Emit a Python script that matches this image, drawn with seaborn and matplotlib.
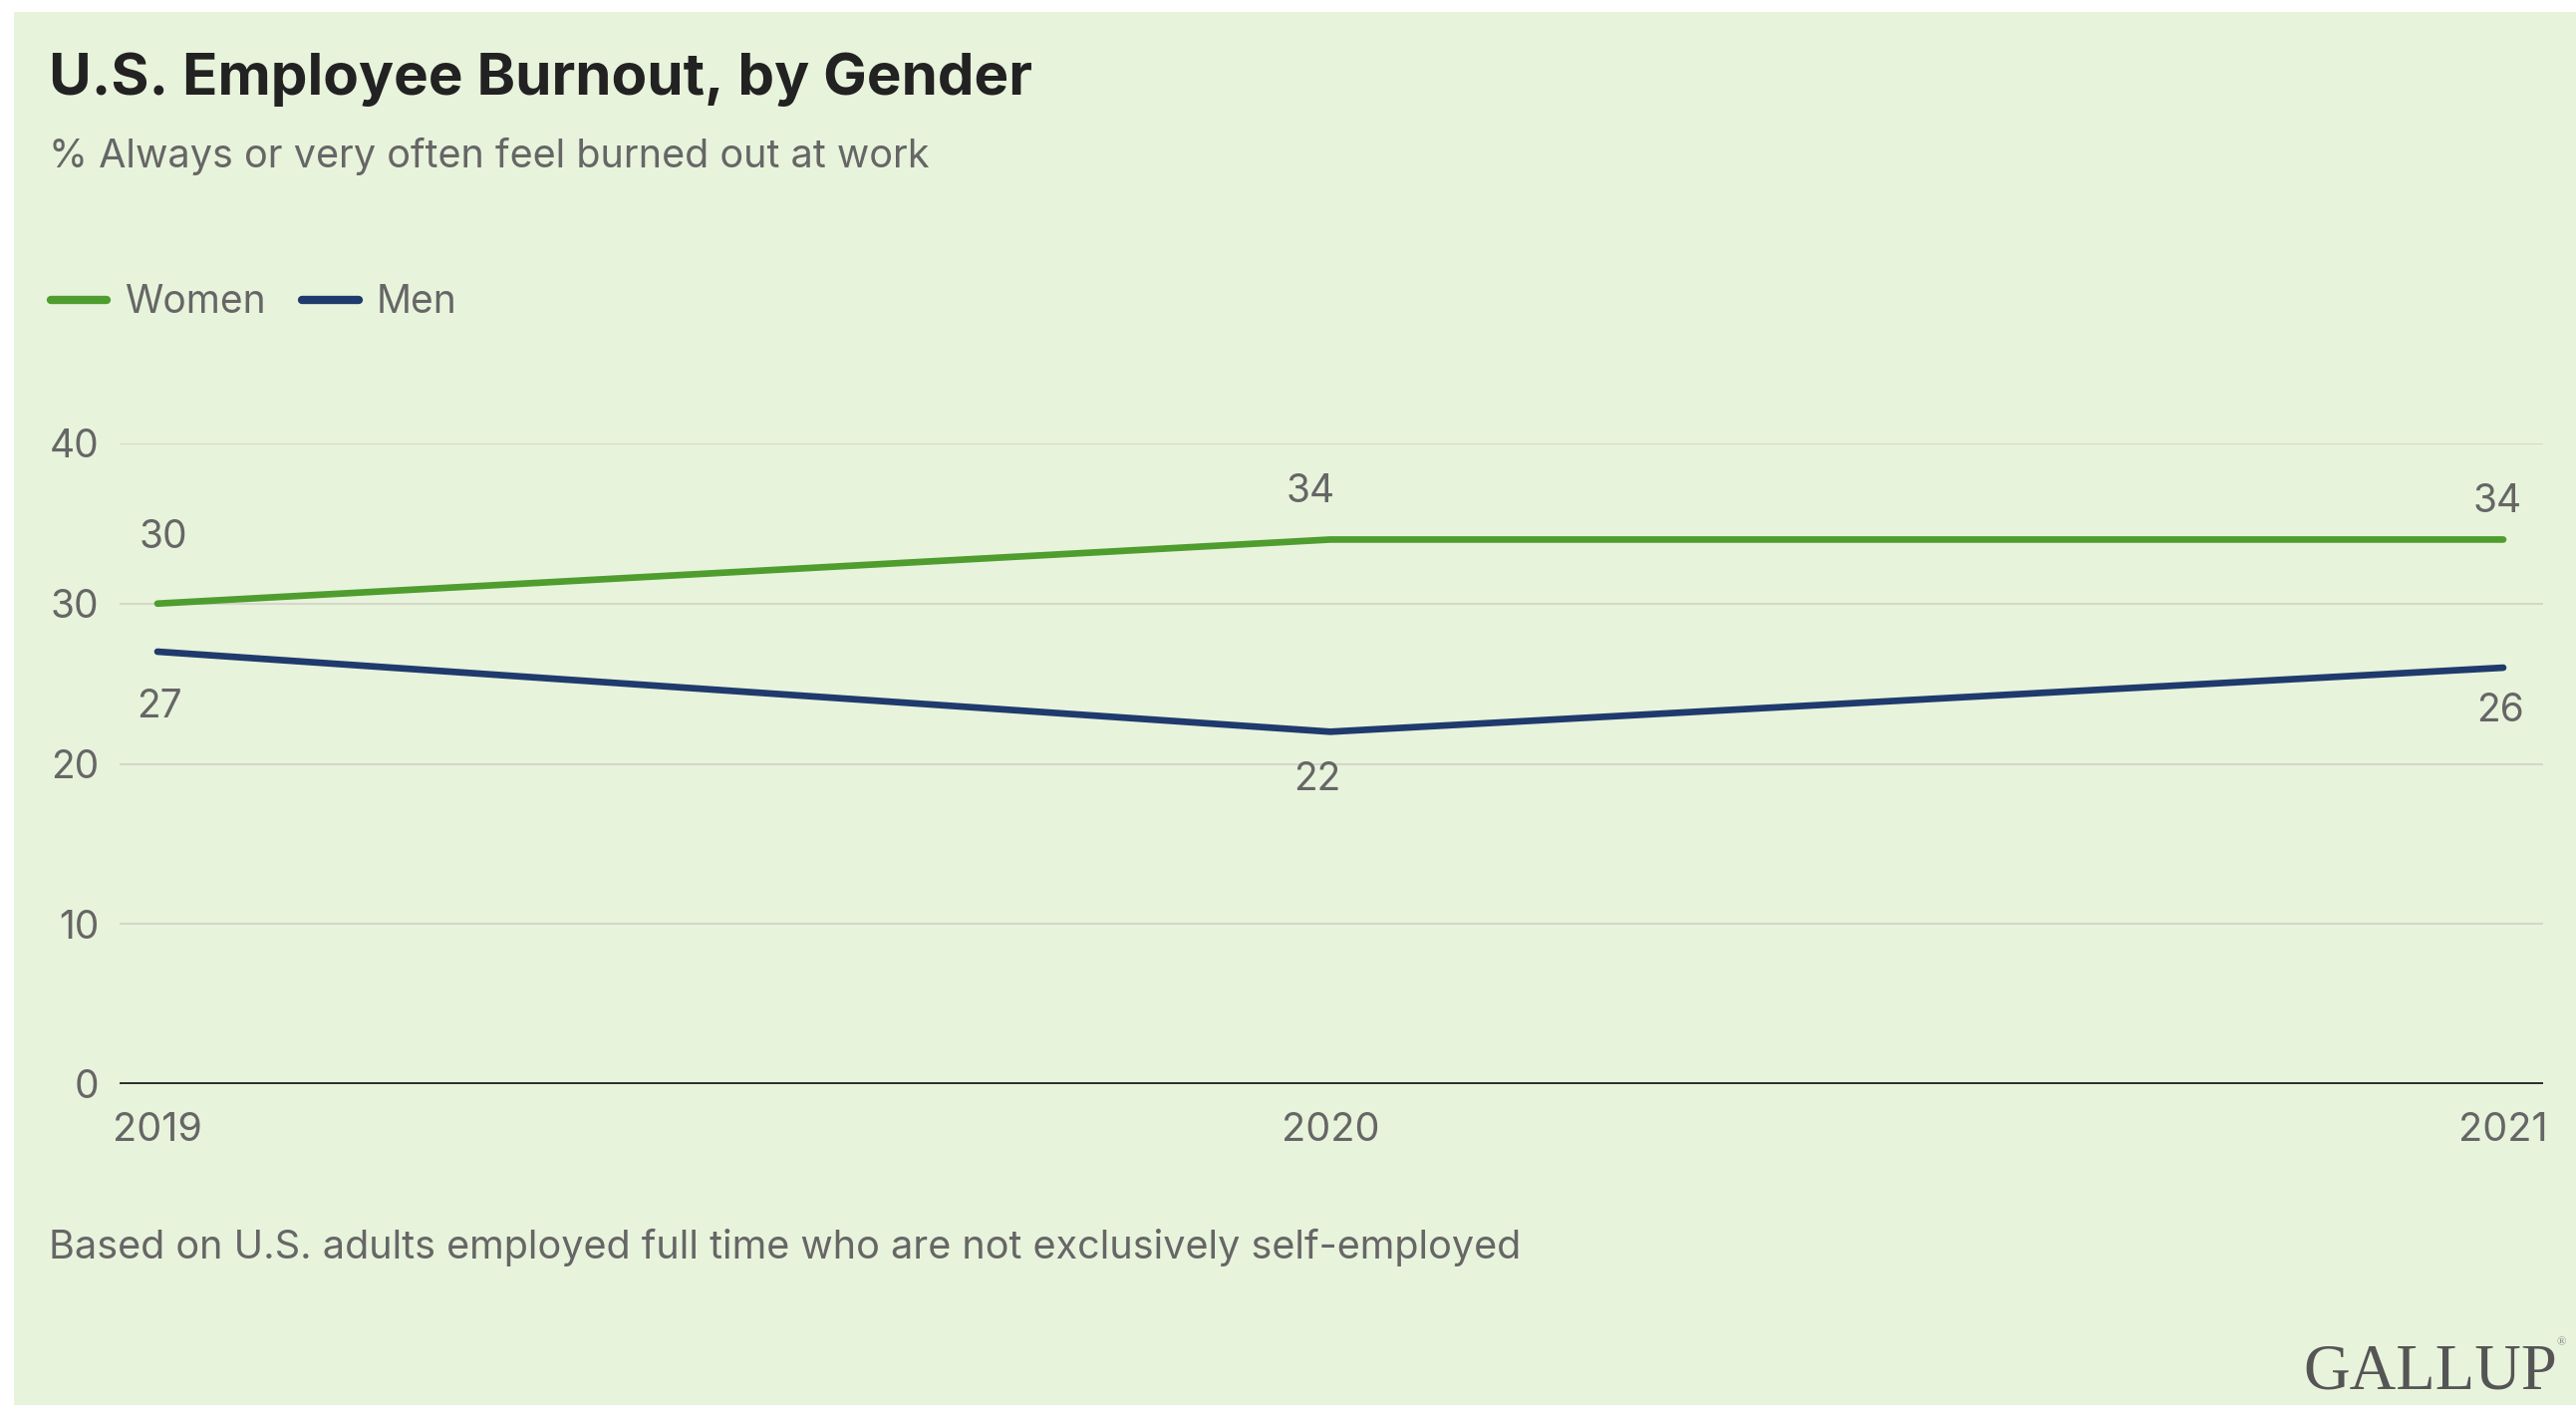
import pandas as pd
import matplotlib.pyplot as plt
import seaborn as sns
from matplotlib.patches import Rectangle
from matplotlib.lines import Line2D

# Datos del gráfico
years = [2019, 2020, 2021]
women = [30, 34, 34]
men = [27, 22, 26]
y_ticks = [0, 10, 20, 30, 40]

GREEN = '#4f9d2f'
NAVY = '#1f3a6c'
BG = '#e8f3dc'
GRAY = '#666666'

df = pd.DataFrame({
    'year': years * 2,
    'pct': women + men,
    'gender': ['Women'] * len(years) + ['Men'] * len(years),
})

sns.set_theme(style='white')
plt.rcParams['font.family'] = ['Inter', 'DejaVu Sans']

fig = plt.figure(figsize=(25.85, 14.10), dpi=100, facecolor='white')
# panel verde con margen blanco arriba e izquierda
fig.patches.append(Rectangle((14 / 2585, 0), 1, 1 - 12 / 1410, transform=fig.transFigure,
                             facecolor=BG, edgecolor='none', zorder=-5))

ax = fig.add_axes([120 / 2585, 322 / 1410, 2432 / 2585, 643 / 1410])
ax.set_facecolor('none')

sns.lineplot(data=df, x='year', y='pct', hue='gender', palette={'Women': GREEN, 'Men': NAVY},
             linewidth=4.8, ax=ax, legend=False, solid_capstyle='round', zorder=3)

ax.set_xlim(2019 - 38 / 1177, 2021 + 40 / 1177)
ax.set_ylim(0, 40)
ax.set_yticks(y_ticks)
ax.set_xticks(years)
ax.set_xticklabels([str(y) for y in years])
ax.grid(axis='y', color='#d3d8c8', linewidth=1.5)
ax.grid(axis='x', visible=False)
ax.axhline(0, color='#2b2b2b', linewidth=3.5, zorder=2)
for s in ax.spines.values():
    s.set_visible(False)
ax.tick_params(axis='y', length=0, pad=15, labelsize=28, labelcolor=GRAY)
ax.tick_params(axis='x', length=0, pad=20, labelsize=28.5, labelcolor=GRAY)
ax.set_xlabel('')
ax.set_ylabel('')

# etiquetas de valores
women_off = [(6, 66), (-20, 48), (-6, 38)]
men_off = [(2, -56), (-13, -48), (-3, -43)]
for x, v, off in zip(years, women, women_off):
    ax.annotate(str(v), (x, v), xytext=off, textcoords='offset pixels',
                ha='center', va='center', fontsize=28, color=GRAY)
for x, v, off in zip(years, men, men_off):
    ax.annotate(str(v), (x, v), xytext=off, textcoords='offset pixels',
                ha='center', va='center', fontsize=28, color=GRAY)

# leyenda
handles = [Line2D([], [], color=GREEN, linewidth=6), Line2D([], [], color=NAVY, linewidth=6)]
leg = fig.legend(handles, ['Women', 'Men'], loc='center left', bbox_to_anchor=(51 / 2585, 1 - 304 / 1410),
                 ncol=2, frameon=False, fontsize=28, handlelength=1.45, handletextpad=0.45,
                 columnspacing=0.95, borderpad=0, borderaxespad=0)
for t in leg.get_texts():
    t.set_color(GRAY)

# títulos
fig.text(49 / 2585, 1 - 95 / 1410, 'U.S. Employee Burnout, by Gender', fontsize=42, fontweight='bold',
         color='#222222', va='baseline', ha='left')
fig.text(49 / 2585, 1 - 168 / 1410, '% Always or very often feel burned out at work', fontsize=28.5,
         color=GRAY, va='baseline', ha='left')
fig.text(49 / 2585, 1 - 1263 / 1410, 'Based on U.S. adults employed full time who are not exclusively self-employed',
         fontsize=28.5, color=GRAY, va='baseline', ha='left')
fig.text(2566 / 2585, 1 - 1393 / 1410, 'GALLUP', fontsize=46.5, color='#555555', va='baseline', ha='right',
         family=['Liberation Serif', 'DejaVu Serif'])
fig.text(2575 / 2585, 1 - 1350 / 1410, '®', fontsize=9, color='#888888', va='baseline', ha='right',
         family=['Liberation Serif', 'DejaVu Serif'])

fig.savefig('out.png', dpi=100, facecolor='white')
